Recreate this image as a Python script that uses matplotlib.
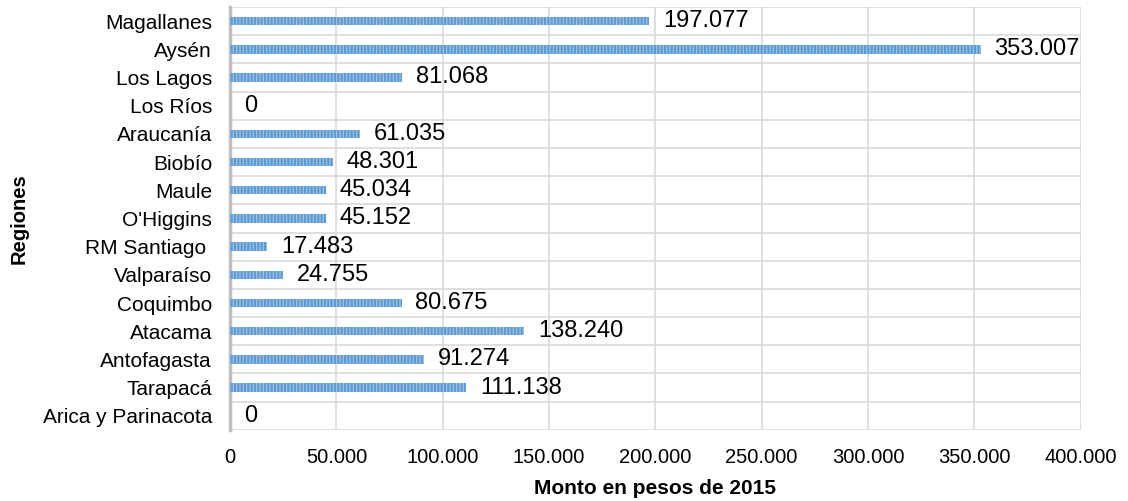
import numpy as np
import matplotlib.pyplot as plt

# Regiones de Chile (de norte a sur, abajo hacia arriba)
regiones = ['Arica y Parinacota', 'Tarapacá', 'Antofagasta', 'Atacama', 'Coquimbo',
            'Valparaíso', 'RM Santiago ', "O'Higgins", 'Maule', 'Biobío',
            'Araucanía', 'Los Ríos', 'Los Lagos', 'Aysén', 'Magallanes']
montos = [0, 111138, 91274, 138240, 80675, 24755, 17483, 45152, 45034, 48301,
          61035, 0, 81068, 353007, 197077]
etiquetas = ['0', '111.138', '91.274', '138.240', '80.675', '24.755', '17.483', '45.152',
             '45.034', '48.301', '61.035', '0', '81.068', '353.007', '197.077']
ticks_x = [0, 50000, 100000, 150000, 200000, 250000, 300000, 350000, 400000]
ticks_x_lbl = ['0', '50.000', '100.000', '150.000', '200.000', '250.000', '300.000',
               '350.000', '400.000']

plt.rcParams['font.family'] = ['Liberation Sans', 'DejaVu Sans']
plt.rcParams['hatch.linewidth'] = 1.5
plt.rcParams['hatch.color'] = '#5B9BD5'

fig = plt.figure(figsize=(11.28, 5.01), dpi=100)
ax = fig.add_axes([0.204, 0.142, 0.754, 0.844])

y = np.arange(len(regiones))
ax.barh(y, montos, height=0.3, color='#9DC3E6', edgecolor='#5B9BD5', linewidth=0,
        hatch='|||||', zorder=3)

for yi, v, lbl in zip(y, montos, etiquetas):
    ax.text(v + 6500, yi, lbl, va='center', ha='left', fontsize=17, color='black', zorder=4)

ax.set_xlim(0, 400000)
ax.set_ylim(-0.5, len(regiones) - 0.5)
ax.set_xticks(ticks_x)
ax.set_xticklabels(ticks_x_lbl, fontsize=14.5)
ax.set_yticks(y)
ax.set_yticklabels(regiones, fontsize=15)
ax.set_yticks(np.arange(-0.5, len(regiones), 1.0), minor=True)

ax.grid(axis='x', color='#D9D9D9', linewidth=1.2, zorder=0)
ax.grid(axis='y', which='minor', color='#D9D9D9', linewidth=1.2, zorder=0)
ax.tick_params(axis='both', which='both', length=0)
ax.tick_params(axis='x', pad=13)
ax.tick_params(axis='y', pad=13)

for s in ['top', 'right', 'bottom']:
    ax.spines[s].set_visible(False)
ax.spines['left'].set_color('#BFBFBF')
ax.spines['left'].set_linewidth(2.5)

ax.set_xlabel('Monto en pesos de 2015', fontsize=15, fontweight='bold', labelpad=9)
ax.set_ylabel('Regiones', fontsize=14.5, fontweight='bold')
ax.yaxis.set_label_coords(-0.237, 0.5)

fig.savefig('out.png', dpi=100)
